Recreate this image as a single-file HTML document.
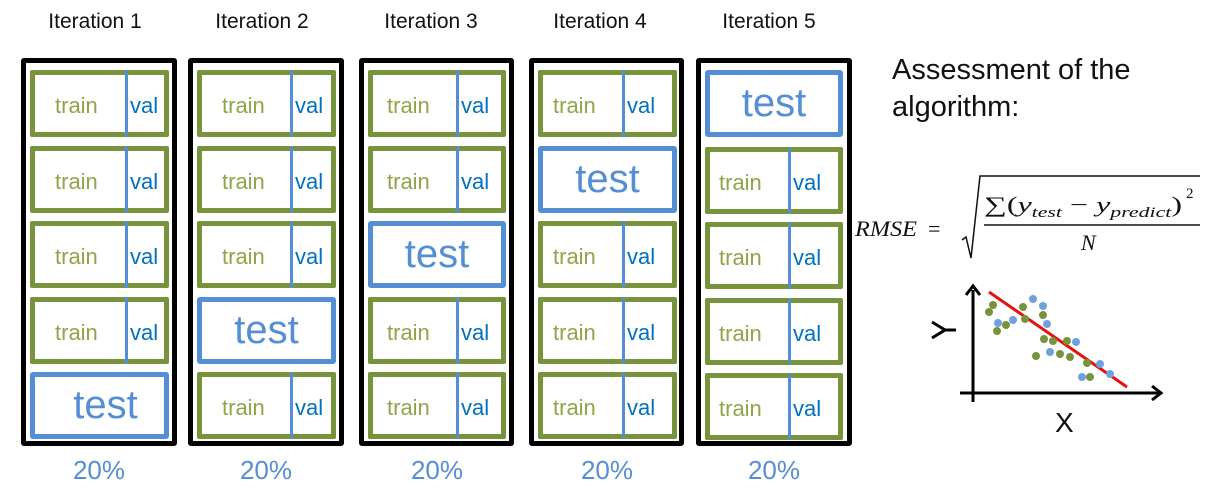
<!DOCTYPE html>
<html><head><style>
body{margin:0;width:1214px;height:497px;background:#fff;position:relative;overflow:hidden;font-family:"Liberation Sans",Arial,sans-serif}
.a{position:absolute}
.col{position:absolute;top:58px;height:388px;border:5px solid #000;border-radius:3px;box-sizing:border-box}
.g{position:absolute;border:5px solid #77933C;box-sizing:border-box;height:67px;border-radius:2px}
.g .v{position:absolute;top:-5px;bottom:-5px;width:3px;background:#558ED5;left:var(--v)}
.g .tr{position:absolute;left:var(--t);top:18px;font-size:22px;color:#8FA548}
.g .vl{position:absolute;left:calc(var(--v) + 5px);top:18px;font-size:22px;color:#0070C0}
.c1 .g{--v:90px;--t:20px}
.c2 .g{--v:88px;--t:20px}
.c3 .g{--v:83px;--t:14px}
.c4 .g{--v:79px;--t:10px}
.c5 .g{--v:78px;--t:9px}
.t{position:absolute;border:5px solid #558ED5;box-sizing:border-box;height:67px;border-radius:3px;color:#558ED5;font-size:40px;text-align:center;line-height:56px}
.it{position:absolute;top:10px;font-size:21px;color:#111;width:156px;text-align:center}
.p{position:absolute;top:455px;font-size:26px;color:#558ED5;width:156px;text-align:center}
</style></head><body>
<div class="it" style="left:17px">Iteration 1</div>
<div class="it" style="left:184px">Iteration 2</div>
<div class="it" style="left:353px">Iteration 3</div>
<div class="it" style="left:522px">Iteration 4</div>
<div class="it" style="left:691px">Iteration 5</div>

<div class="col" style="left:21px;width:156px"></div>
<div class="col" style="left:188px;width:156px"></div>
<div class="col" style="left:359px;width:155px"></div>
<div class="col" style="left:529px;width:155px"></div>
<div class="col" style="left:696px;width:156px"></div>

<div class="c1">
<div class="g" style="left:30px;top:70px;width:139px"><div class="v"></div><span class="tr">train</span><span class="vl">val</span></div>
<div class="g" style="left:30px;top:146px;width:139px"><div class="v"></div><span class="tr">train</span><span class="vl">val</span></div>
<div class="g" style="left:30px;top:221px;width:139px"><div class="v"></div><span class="tr">train</span><span class="vl">val</span></div>
<div class="g" style="left:30px;top:297px;width:139px"><div class="v"></div><span class="tr">train</span><span class="vl">val</span></div>
<div class="t" style="left:30px;top:372px;width:139px;text-indent:12px">test</div>
</div>
<div class="c2">
<div class="g" style="left:197px;top:70px;width:139px"><div class="v"></div><span class="tr">train</span><span class="vl">val</span></div>
<div class="g" style="left:197px;top:146px;width:139px"><div class="v"></div><span class="tr">train</span><span class="vl">val</span></div>
<div class="g" style="left:197px;top:221px;width:139px"><div class="v"></div><span class="tr">train</span><span class="vl">val</span></div>
<div class="t" style="left:197px;top:297px;width:139px">test</div>
<div class="g" style="left:197px;top:372px;width:139px"><div class="v"></div><span class="tr">train</span><span class="vl">val</span></div>
</div>
<div class="c3">
<div class="g" style="left:368px;top:70px;width:138px"><div class="v"></div><span class="tr">train</span><span class="vl">val</span></div>
<div class="g" style="left:368px;top:146px;width:138px"><div class="v"></div><span class="tr">train</span><span class="vl">val</span></div>
<div class="t" style="left:368px;top:221px;width:138px">test</div>
<div class="g" style="left:368px;top:297px;width:138px"><div class="v"></div><span class="tr">train</span><span class="vl">val</span></div>
<div class="g" style="left:368px;top:372px;width:138px"><div class="v"></div><span class="tr">train</span><span class="vl">val</span></div>
</div>
<div class="c4">
<div class="g" style="left:538px;top:70px;width:139px"><div class="v"></div><span class="tr">train</span><span class="vl">val</span></div>
<div class="t" style="left:538px;top:146px;width:139px">test</div>
<div class="g" style="left:538px;top:221px;width:139px"><div class="v"></div><span class="tr">train</span><span class="vl">val</span></div>
<div class="g" style="left:538px;top:297px;width:139px"><div class="v"></div><span class="tr">train</span><span class="vl">val</span></div>
<div class="g" style="left:538px;top:372px;width:139px"><div class="v"></div><span class="tr">train</span><span class="vl">val</span></div>
</div>
<div class="c5">
<div class="t" style="left:705px;top:70px;width:138px">test</div>
<div class="g" style="left:705px;top:147px;width:138px"><div class="v"></div><span class="tr">train</span><span class="vl">val</span></div>
<div class="g" style="left:705px;top:222px;width:138px"><div class="v"></div><span class="tr">train</span><span class="vl">val</span></div>
<div class="g" style="left:705px;top:298px;width:138px"><div class="v"></div><span class="tr">train</span><span class="vl">val</span></div>
<div class="g" style="left:705px;top:373px;width:138px"><div class="v"></div><span class="tr">train</span><span class="vl">val</span></div>
</div>

<div class="p" style="left:21px">20%</div>
<div class="p" style="left:188px">20%</div>
<div class="p" style="left:359px">20%</div>
<div class="p" style="left:529px">20%</div>
<div class="p" style="left:696px">20%</div>

<div class="a" style="left:892px;top:52px;font-size:29px;color:#111;line-height:37px">Assessment of the<br>algorithm:</div>

<svg class="a" style="left:0;top:0" width="1214" height="497">
<g font-family="Liberation Serif,serif" font-style="italic" fill="#111">
<text x="855" y="236" font-size="22" textLength="62" lengthAdjust="spacingAndGlyphs">RMSE</text>
<text x="928" y="236" font-size="22" font-style="normal">=</text>
<text x="984" y="212" font-size="22" textLength="198" lengthAdjust="spacingAndGlyphs"><tspan font-style="normal">∑(</tspan>y<tspan font-size="15" dy="5">test</tspan><tspan dy="-5" font-style="normal"> − </tspan>y<tspan font-size="15" dy="5">predict</tspan><tspan dy="-5" font-style="normal">)</tspan></text>
<text x="1186" y="198" font-size="15" font-style="normal">2</text>
<text x="1081" y="250" font-size="22">N</text>
</g>
<line x1="984" y1="225" x2="1200" y2="225" stroke="#111" stroke-width="1.5"/>
<polyline points="962,240 966,237 971,258 980,176 1200,176" fill="none" stroke="#111" stroke-width="1.5"/>
<g stroke="#000" stroke-width="3" fill="none">
<line x1="973" y1="290" x2="973" y2="402"/>
<polyline points="966,295 973,286 980,295"/>
<line x1="960" y1="393" x2="1160" y2="393"/>
<polyline points="1152,386 1161,393 1152,400"/>
<polyline points="932,322 945,330 932,338"/>
<line x1="945" y1="330" x2="956" y2="330"/>
</g>
<text x="1055" y="432" font-size="28" fill="#111" font-family="Liberation Sans,sans-serif">X</text>
<line x1="989" y1="292" x2="1127" y2="387" stroke="#e81010" stroke-width="3"/>
<g fill="#77933C">
<circle cx="993" cy="305" r="4"/><circle cx="989" cy="312" r="4"/><circle cx="1006" cy="325" r="4"/><circle cx="997" cy="331" r="4"/><circle cx="1023" cy="307" r="4"/><circle cx="1025" cy="319" r="4"/><circle cx="1043" cy="315" r="4"/><circle cx="1044" cy="339" r="4"/><circle cx="1053" cy="341" r="4"/><circle cx="1067" cy="341" r="4"/><circle cx="1070" cy="357" r="4"/><circle cx="1036" cy="356" r="4"/><circle cx="1060" cy="354" r="4"/><circle cx="1087" cy="363" r="4"/><circle cx="1090" cy="377" r="4"/>
</g>
<g fill="#6fa0e0">
<circle cx="998" cy="323" r="4"/><circle cx="1013" cy="320" r="4"/><circle cx="1033" cy="299" r="4"/><circle cx="1043" cy="306" r="4"/><circle cx="1047" cy="324" r="4"/><circle cx="1050" cy="352" r="4"/><circle cx="1076" cy="342" r="4"/><circle cx="1082" cy="377" r="4"/><circle cx="1100" cy="364" r="4"/><circle cx="1110" cy="374" r="4"/>
</g>
</svg>
</body></html>
